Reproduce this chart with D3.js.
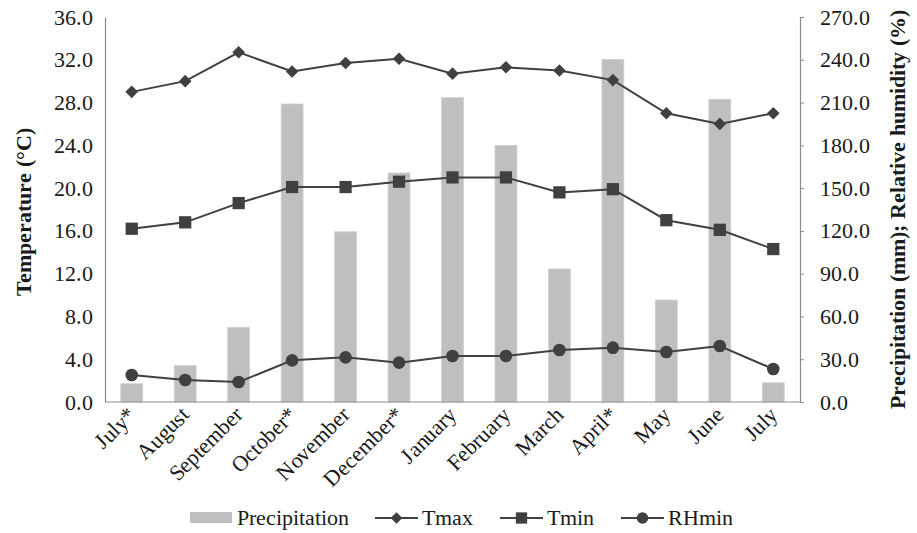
<!DOCTYPE html>
<html><head><meta charset="utf-8">
<script src="https://cdn.jsdelivr.net/npm/d3@7"></script>
<style>
@font-face { font-family: "ChartSerif"; src: local("Liberation Serif"), local("LiberationSerif"), local("Liberation Serif Regular"), local("LiberationSerif-Regular"); font-weight: normal; }
@font-face { font-family: "ChartSerif"; src: local("Liberation Serif Bold"), local("LiberationSerif-Bold"); font-weight: bold; }
html, body, svg, svg text { font-family: "ChartSerif", "Liberation Serif", "Times New Roman", serif; }
</style>
</head><body style="margin:0;background:#fff">
<svg id="c" width="917" height="533"></svg>
<script>
const months = ["July*","August","September","October*","November","December*","January","February","March","April*","May","June","July"];
const precipitation = [12.8,25.5,52.4,209,119.4,160.6,213.4,180,93.3,240.3,71.5,212.3,13.5];
const tmax = [29.0,30.0,32.7,30.9,31.7,32.1,30.7,31.3,31.0,30.1,27.0,26.0,27.0];
const tmin = [16.2,16.8,18.6,20.1,20.1,20.6,21.0,21.0,19.6,19.9,17.0,16.1,14.3];
const rhmin = [18.9,15.4,14.0,29.2,31.3,27.6,32.3,32.3,36.5,38.1,35.1,39.3,23.1];
const leftTicks = [0,4,8,12,16,20,24,28,32,36];
const rightTicks = [0,30,60,90,120,150,180,210,240,270];

const svg = d3.select("#c");
const L = 105, R = 800, T = 17, B = 402;
const x = d3.scaleBand().domain(months).range([L, R]).paddingInner(0.59).paddingOuter(0.295);
const xc = d3.scalePoint().domain(months).range([L, R]).padding(0.5);
const yL = d3.scaleLinear().domain([0, 36]).range([B, T]);
const yR = d3.scaleLinear().domain([0, 270]).range([B, T]);
const dark = "#404040", barFill = "#bfbfbf", axisC = "#8c8c8c";
const FF = "ChartSerif, Liberation Serif, Times New Roman, serif";
const FS = 22;

// bars
svg.append("g").selectAll("rect").data(precipitation).join("rect")
  .attr("x", (d,i) => x(months[i])).attr("width", x.bandwidth())
  .attr("y", d => yR(d)).attr("height", d => B - yR(d))
  .attr("fill", barFill).attr("stroke", "#d0d0d0").attr("stroke-width", 0.8);

// axes
const gL = svg.append("g").attr("transform", `translate(${L},0)`)
  .call(d3.axisLeft(yL).tickValues(leftTicks).tickSize(0).tickPadding(12).tickFormat(d3.format(".1f")));
const gR = svg.append("g").attr("transform", `translate(${R},0)`)
  .call(d3.axisRight(yR).tickValues(rightTicks).tickSize(4).tickPadding(16).tickFormat(d3.format(".1f")));
const gB = svg.append("g").attr("transform", `translate(0,${B})`)
  .call(d3.axisBottom(xc).tickSize(0).tickPadding(0));
[gL, gR, gB].forEach(g => {
  g.attr("font-family", FF).attr("font-size", FS);
  g.select(".domain").attr("stroke", axisC).attr("stroke-width", 1.2);
  g.selectAll(".tick line").attr("stroke", axisC);
  g.selectAll("text").attr("fill", "#1a1a1a");
});
gB.select(".domain").attr("d", `M${L},0H${R}`);
gB.selectAll(".tick text").attr("text-anchor", "end").attr("dy", 0)
  .attr("transform", "translate(5,14) rotate(-45)");

// lines
const diamond = {draw(ctx, size){ const r = Math.sqrt(size/2); ctx.moveTo(0,-r); ctx.lineTo(r,0); ctx.lineTo(0,r); ctx.lineTo(-r,0); ctx.closePath(); }};
const series = [
  {name: "Tmax", vals: tmax, y: yL, shape: diamond, size: 80},
  {name: "Tmin", vals: tmin, y: yL, shape: d3.symbolSquare, size: 150},
  {name: "RHmin", vals: rhmin, y: yR, shape: d3.symbolCircle, size: 125}
];
series.forEach(s => {
  const line = d3.line().x((d,i) => xc(months[i])).y(d => s.y(d));
  svg.append("path").datum(s.vals).attr("d", line).attr("fill", "none")
    .attr("stroke", dark).attr("stroke-width", 2);
  svg.append("g").selectAll("path").data(s.vals).join("path")
    .attr("d", d3.symbol().type(s.shape).size(s.size))
    .attr("transform", (d,i) => `translate(${xc(months[i])},${s.y(d)})`)
    .attr("fill", dark);
});

// axis titles
svg.append("text").attr("transform", "translate(31,212) rotate(-90)")
  .attr("text-anchor", "middle").attr("font-family", FF).attr("font-size", FS).attr("font-weight", "bold").attr("fill", "#1a1a1a")
  .text("Temperature (°C)");
svg.append("text").attr("transform", "translate(905,209) rotate(-90)")
  .attr("text-anchor", "middle").attr("font-family", FF).attr("font-size", FS).attr("font-weight", "bold").attr("fill", "#1a1a1a")
  .text("Precipitation (mm); Relative humidity (%)");

// legend
const lg = svg.append("g").attr("font-family", FF).attr("font-size", FS);
const ly = 518;
lg.append("rect").attr("x", 190).attr("y", ly - 6).attr("width", 42).attr("height", 11).attr("fill", barFill);
lg.append("text").attr("x", 237).attr("y", ly + 7).attr("fill", "#1a1a1a").text("Precipitation");
const lpos = [375, 500, 621];
series.forEach((s, i) => {
  const x0 = lpos[i];
  lg.append("line").attr("x1", x0).attr("x2", x0 + 43).attr("y1", ly).attr("y2", ly).attr("stroke", dark).attr("stroke-width", 2);
  lg.append("path").attr("d", d3.symbol().type(s.shape).size(s.size * 0.85)).attr("transform", `translate(${x0 + 21.5},${ly})`).attr("fill", dark);
  lg.append("text").attr("x", x0 + 47).attr("y", ly + 7).attr("fill", "#1a1a1a").text(s.name);
});
</script>
</body></html>
